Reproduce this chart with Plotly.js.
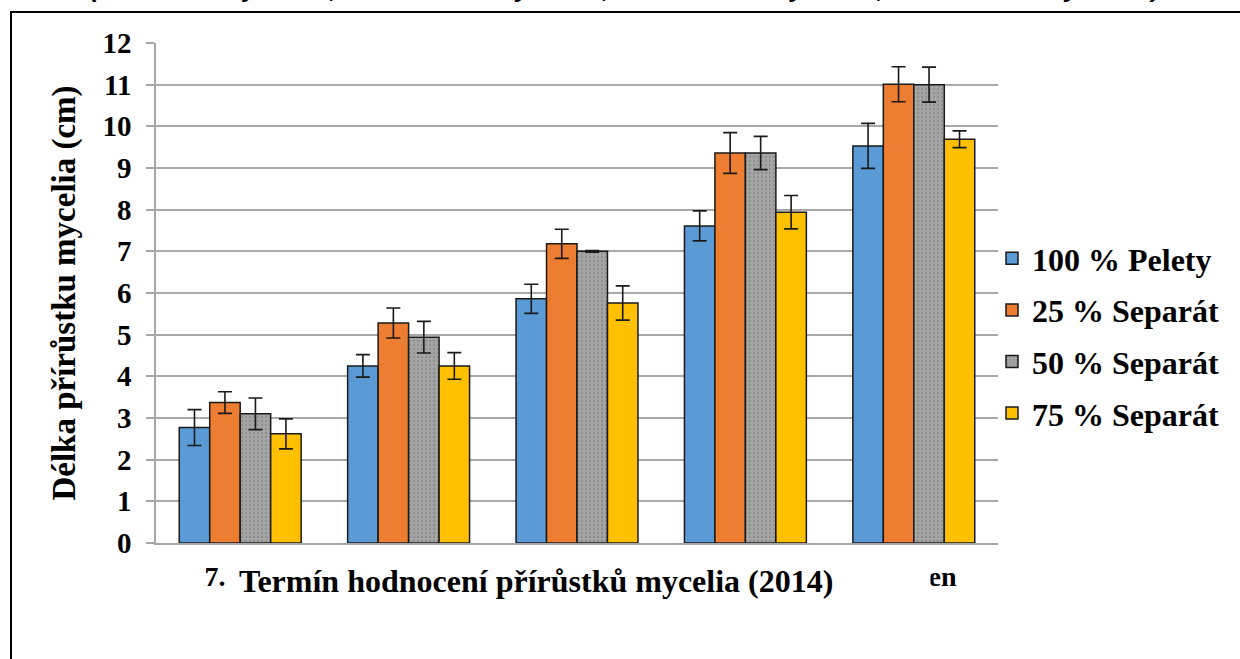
<!DOCTYPE html>
<html>
<head>
<meta charset="utf-8">
<script src="https://cdn.plot.ly/plotly-3.0.1.min.js"></script>
<style>html,body{margin:0;padding:0;background:#fff}#chart{width:1240px;height:659px}</style>
</head>
<body>
<div id="chart"></div>
<script>
// ---- data ----
const categories = ["7. den", "14. den", "21. den", "28. den", "35. den"];
const seriesNames = ["100 % Pelety", "25 % Separát", "50 % Separát", "75 % Separát"];
const pelety100 = [2.77, 4.25, 5.86, 7.61, 9.53];
const separat25 = [3.37, 5.28, 7.18, 9.36, 11.01];
const separat50 = [3.10, 4.94, 7.00, 9.36, 11.00];
const separat75 = [2.62, 4.25, 5.76, 7.94, 9.69];
const err100 = [0.43, 0.27, 0.35, 0.36, 0.54];
const err25 = [0.26, 0.36, 0.35, 0.49, 0.42];
const err50 = [0.38, 0.38, 0.02, 0.40, 0.42];
const err75 = [0.36, 0.32, 0.41, 0.40, 0.20];
const yTitle = "Délka přírůstku mycelia (cm)";
const xTitle = "Termín hodnocení přírůstků mycelia (2014)";
const topNote = "(7. den: 4 dny růstu, 14. den: 11 dny růstu, 21. den: 18 dny růstu, 28. den: 25 dny růstu)";

const colors = ["#5B9BD5", "#ED7D31", "#A5A5A5", "#FFC000"];
const values = [pelety100, separat25, separat50, separat75];
const errs = [err100, err25, err50, err75];
const serif = "Liberation Serif";

const traces = seriesNames.map((name, i) => {
  const marker = {color: colors[i], line: {color: "#1a1a1a", width: 1.5}};
  if (i === 2) {
    marker.pattern = {shape: ".", fgcolor: "#8f8f8f", bgcolor: colors[i], size: 4, solidity: 0.25};
  }
  return {
    type: "bar",
    name: name,
    x: categories,
    y: values[i],
    marker: marker,
    legendgroup: "g" + i,
    error_y: {type: "data", array: errs[i], visible: true, color: "#1a1a1a", thickness: 1.6, width: 7}
  };
});

const L = 156, R = 998, T = 43, B = 543;
const px2x = p => (p - L) / (R - L);
const px2y = p => (B - p) / (B - T);

const layout = {
  width: 1240, height: 659,
  margin: {l: L, r: 1240 - R, t: T, b: 659 - B, pad: 0},
  paper_bgcolor: "#ffffff", plot_bgcolor: "#ffffff",
  font: {family: serif, color: "#000"},
  barmode: "group",
  bargap: 0.276,
  bargroupgap: 0,
  showlegend: true,
  legend: {
    x: px2x(992), y: px2y(231), xanchor: "left", yanchor: "top",
    font: {family: serif, size: 32, weight: "bold", color: "#000"},
    traceorder: "grouped", tracegroupgap: 7,
    bgcolor: "rgba(0,0,0,0)"
  },
  xaxis: {
    type: "category", categoryorder: "array", categoryarray: categories,
    showgrid: false, showline: true, linecolor: "#A6A6A6", linewidth: 2,
    ticks: "", zeroline: false,
    tickfont: {family: serif, size: 28, weight: "bold", color: "#000"},
    ticklabelstandoff: 7
  },
  yaxis: {
    range: [0, 12], dtick: 1, tick0: 0,
    showgrid: true, gridcolor: "#A8A8A8", gridwidth: 2,
    zeroline: false, showline: true, linecolor: "#A6A6A6", linewidth: 1.5,
    ticks: "outside", ticklen: 8, tickcolor: "#A6A6A6", tickwidth: 1.5,
    tickfont: {family: serif, size: 29, weight: "bold", color: "#000"},
    ticklabelstandoff: 9,
    title: {text: yTitle, font: {family: serif, size: 33, weight: "bold", color: "#000"}, standoff: 17}
  },
  shapes: [{
    type: "rect", xref: "paper", yref: "paper",
    x0: px2x(11), x1: px2x(1270), y0: px2y(700), y1: px2y(12),
    line: {color: "#000", width: 2}, fillcolor: "rgba(0,0,0,0)", layer: "below"
  }],
  annotations: [
    {
      text: xTitle, xref: "paper", yref: "paper",
      x: px2x(229), y: px2y(581), xanchor: "left", yanchor: "middle",
      width: 682, align: "left", bgcolor: "#ffffff", borderpad: 9,
      showarrow: false,
      font: {family: serif, size: 32, weight: "bold", color: "#000"}
    },
    {
      text: topNote, xref: "paper", yref: "paper",
      x: px2x(625), y: px2y(5), xanchor: "center", yanchor: "bottom",
      showarrow: false,
      font: {family: "Liberation Sans", size: 26, weight: "bold", style: "italic", color: "#000"}
    }
  ]
};

Plotly.newPlot("chart", traces, layout, {displayModeBar: false, responsive: false});
</script>
</body>
</html>
